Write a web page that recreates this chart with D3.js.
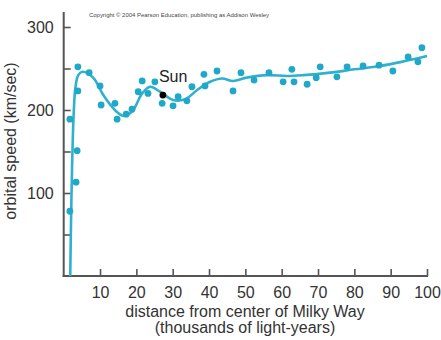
<!DOCTYPE html>
<html><head><meta charset="utf-8">
<script src="https://cdn.jsdelivr.net/npm/d3@7"></script>
<style>body{margin:0;background:#fff}svg{display:block}text{font-family:"Liberation Sans",Arial,Helvetica,sans-serif}</style>
</head><body><svg id="c" width="441" height="340"></svg>
<script>
// measured data points: distance (thousands ly), speed (km/s)
const pointX = [1.7,3.4,3.7,1.7,3.9,3.9,7.0,10.0,10.3,14.1,14.7,17.2,18.8,20.5,21.6,23.2,25.1,27.1,30.1,31.5,33.9,35.3,38.6,38.9,42.2,46.6,48.8,52.4,56.5,60.4,62.8,63.4,67.0,69.5,70.6,75.2,78.0,82.4,86.8,90.6,94.8,97.5,98.6];
const pointY = [78,113,151,189,223,252,245,229,206,208,189,195,201,222,235,220,234,208,205,216,211,228,243,229,247,223,245,236,245,234,249,234,231,239,252,240,252,253,254,247,264,258,275];
// rotation curve
const curveX = [1.8,2.0,2.3,2.7,3.2,4.0,5.1,8.1,10.9,14.1,16.4,18.8,21.6,23.8,26.5,30.1,33.4,37.0,40.3,43.6,46.6,50.4,56.0,61.5,66.0,73.3,80.0,87.0,93.0,100.0];
const curveY = [0,60,130,190,226,242,246,239,218,200,193,198,220,228,222,212,213,225,234,238,235,239,242,241,242,245,249,253,258,265];
const sunX = 27.3, sunY = 218;
const xTicks = [10,20,30,40,50,60,70,80,90,100];
const yTicks = [50,100,150,200,250,300];
const yLabels = [100,200,300];

const svg = d3.select("#c");
const x = d3.scaleLinear().domain([0,100]).range([63.7,427]);
const y = d3.scaleLinear().domain([0,300]).range([276,27]);
const axisColor = "#555";
const teal = "#1fa8c8";

// copyright
svg.append("text").attr("x",89).attr("y",17).attr("font-size","5.5px").attr("fill","#444")
  .attr("textLength",180).attr("lengthAdjust","spacingAndGlyphs")
  .text("Copyright © 2004 Pearson Education, publishing as Addison Wesley");

// axes
const gx = svg.append("g").attr("transform",`translate(0,${y(0)})`)
  .call(d3.axisBottom(x).tickValues(xTicks).tickSize(-7).tickPadding(10.6).tickFormat(d3.format("d")));
const gy = svg.append("g").attr("transform",`translate(${x(0)},0)`)
  .call(d3.axisLeft(y).tickValues(yTicks).tickSize(-7).tickPadding(10).tickFormat(d => yLabels.includes(d) ? d : ""));
[gx,gy].forEach(g=>{
  g.select(".domain").remove();
  g.selectAll(".tick line").attr("stroke",axisColor).attr("stroke-width",1.6);
  g.selectAll(".tick text").attr("font-size","16px").attr("fill","#333").attr("font-family",'"Liberation Sans",Arial,sans-serif');
});
svg.append("line").attr("x1",x(0)).attr("x2",x(0)).attr("y1",y(0)+1).attr("y2",y(318))
  .attr("stroke",axisColor).attr("stroke-width",2);
svg.append("line").attr("x1",x(0)-1).attr("x2",x(100)+1).attr("y1",y(0)).attr("y2",y(0))
  .attr("stroke",axisColor).attr("stroke-width",2);

// curve
const line = d3.line().x((d,i)=>x(curveX[i])).y((d,i)=>y(curveY[i])).curve(d3.curveCatmullRom.alpha(0.5));
svg.append("path").datum(curveX).attr("d",line).attr("fill","none").attr("stroke","#2fb0cf").attr("stroke-width",2.6);

// points
svg.append("g").selectAll("circle").data(pointX).join("circle")
  .attr("cx",(d)=>x(d)).attr("cy",(d,i)=>y(pointY[i])).attr("r",3.4).attr("fill",teal);

// sun
svg.append("circle").attr("cx",x(sunX)).attr("cy",y(sunY)).attr("r",3.4).attr("fill","#000");
svg.append("text").attr("x",x(sunX)-4).attr("y",82).attr("font-size","16px").attr("fill","#222").text("Sun");

// axis titles
svg.append("text").attr("x",245).attr("y",317).attr("text-anchor","middle").attr("font-size","16px").attr("fill","#333")
  .text("distance from center of Milky Way");
svg.append("text").attr("x",245).attr("y",333).attr("text-anchor","middle").attr("font-size","16px").attr("fill","#333")
  .text("(thousands of light-years)");
svg.append("text").attr("transform",`translate(16,${141}) rotate(-90)`).attr("text-anchor","middle").attr("font-size","16px").attr("fill","#333")
  .text("orbital speed (km/sec)");
</script></body></html>
